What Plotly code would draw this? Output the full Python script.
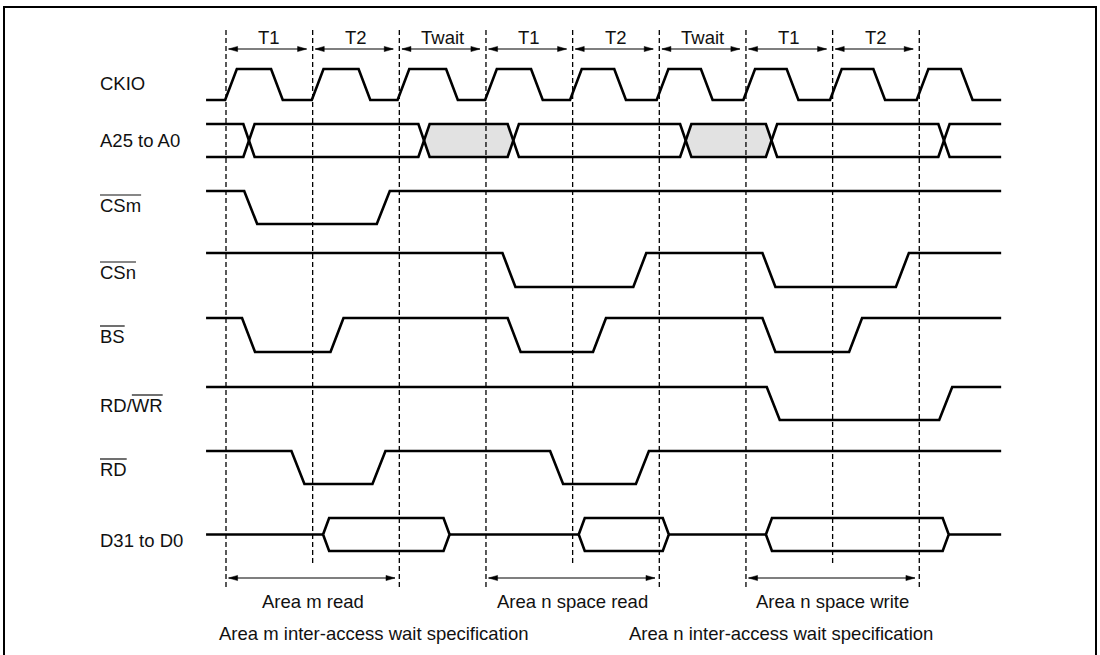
import plotly.graph_objects as go

# ---------------- data (times in clock cycles, 0 = first dashed boundary) ----------------
SIGNAL_NAMES = ["CKIO", "A25 to A0", "CSm", "CSn", "BS", "RD/WR", "RD", "D31 to D0"]
PERIOD_LABELS = ["T1", "T2", "Twait", "T1", "T2", "Twait", "T1", "T2"]
PERIOD_BOUNDS = [0, 1, 2, 3, 4, 5, 6, 7, 8]
BOUND_LONG = [True, False, True, True, False, True, True, False, True]
T_START, T_END = -0.23, 8.945

CKIO_INIT = 0
CKIO_EDGES = [-0.01, 0.52, 0.99, 1.53, 1.98, 2.54, 2.99, 3.52, 3.97, 4.48,
              4.97, 5.48, 5.97, 6.47, 6.97, 7.47, 7.97, 8.48]
ADDR_EDGES = [0.20, 2.22, 3.25, 5.24, 6.23, 8.22]
ADDR_SHADED = [False, False, True, False, True, False, False]
CSM_INIT, CSM_EDGES = 1, [0.21, 1.74]
CSN_INIT, CSN_EDGES = 1, [3.19, 4.70, 6.19, 7.73]
BS_INIT, BS_EDGES = 1, [0.185, 1.206, 3.25, 4.235, 6.19, 7.19]
RDWR_INIT, RDWR_EDGES = 1, [6.24, 8.23]
RD_INIT, RD_EDGES = 1, [0.755, 1.69, 3.74, 4.73]
DATA_VALID = [(1.12, 2.58), (4.07, 5.11), (6.23, 8.34)]

ACCESS_SPANS = [(0, 2), (3, 5), (6, 8)]
ACCESS_LABELS = ["Area m read", "Area n space read", "Area n space write"]
WAIT_SPEC_LABELS = ["Area m inter-access wait specification",
                    "Area n inter-access wait specification"]
WAIT_SPEC_CENTERS = [1.70, 6.40]

# ---------------- layout / style ----------------
W, H = 1100, 655
P0, PPC = 226.0, 86.66            # pixel of t=0, pixels per cycle
ROW_HI = [69, 124, 191, 253, 318, 387, 451, 518]
ROW_LO = [100, 157, 224, 287, 352, 420, 484, 551]
LABEL_Y = [83, 140, 205, 272, 336, 405, 469, 540]
LABEL_PX = 99
OVERLINE = {"CSm": (0, 3), "CSn": (0, 3), "BS": (0, 2), "RD/WR": (3, 5), "RD": (0, 2)}
CHAR_W = {'C': 722, 'S': 667, 'm': 833, 'n': 556, 'B': 667, 'R': 722, 'D': 722, '/': 278, 'W': 944}
FONT = "Liberation Sans, Arial, Helvetica, sans-serif"
LBL_SIZE = 18.5
T_SIZE = 18.5
EDGE_W = 0.15
CLK_EDGE_W = 0.135
BUS_W = 0.13
HEX_R = 0.07
GRAY = "#e2e2e2"
LINE = dict(color="black", width=2.6)
DASH_TOP, DASH_BOT_LONG, DASH_BOT_SHORT = 30, 587, 565
PERIOD_ARROW_Y, PERIOD_LABEL_Y = 49, 37
ACC_ARROW_Y, ACC_LABEL_Y, SPEC_LABEL_Y = 578, 601, 633
HEAD_LEN, HEAD_HALF = 9 / PPC, 2.6


def px2t(px):
    return (px - P0) / PPC


rows = {n: (hi, lo) for n, hi, lo in zip(SIGNAL_NAMES, ROW_HI, ROW_LO)}


def ylev(name, lvl):
    hi, lo = rows[name]
    return lo - lvl * (lo - hi)


def waveform(init, edges, w):
    lvl = init
    xs, lv = [T_START], [lvl]
    for e in edges:
        xs += [e, e + w]
        lv += [lvl, 1 - lvl]
        lvl = 1 - lvl
    xs.append(T_END)
    lv.append(lvl)
    return xs, lv


fig = go.Figure()

# A25 to A0 shaded (invalid) regions
hi, lo = rows["A25 to A0"]
mid = (hi + lo) / 2
for i, sh in enumerate(ADDR_SHADED):
    if sh:
        a, b = ADDR_EDGES[i - 1], ADDR_EDGES[i]
        fig.add_trace(go.Scatter(
            x=[a + BUS_W / 2, a + BUS_W, b, b + BUS_W / 2, b, a + BUS_W, a + BUS_W / 2],
            y=[mid, hi, hi, mid, lo, lo, mid], fill="toself", fillcolor=GRAY,
            mode="lines", line=dict(width=0), hoverinfo="skip", showlegend=False))

# bus lines
for init in (1, 0):
    xs, lv = waveform(init, ADDR_EDGES, BUS_W)
    fig.add_trace(go.Scatter(x=xs, y=[ylev("A25 to A0", l) for l in lv], mode="lines",
                             line=LINE, hoverinfo="skip", showlegend=False))

# single-line signals
digital = [("CKIO", CKIO_INIT, CKIO_EDGES, CLK_EDGE_W),
           ("CSm", CSM_INIT, CSM_EDGES, EDGE_W),
           ("CSn", CSN_INIT, CSN_EDGES, EDGE_W),
           ("BS", BS_INIT, BS_EDGES, EDGE_W),
           ("RD/WR", RDWR_INIT, RDWR_EDGES, EDGE_W),
           ("RD", RD_INIT, RD_EDGES, EDGE_W)]
for name, init, edges, w in digital:
    xs, lv = waveform(init, edges, w)
    fig.add_trace(go.Scatter(x=xs, y=[ylev(name, l) for l in lv], mode="lines",
                             line=LINE, hoverinfo="skip", showlegend=False))

# data bus
hi, lo = rows["D31 to D0"]
mid = (hi + lo) / 2
cx, cy = [], []
prev = T_START
for tl, tr in DATA_VALID:
    cx += [prev, tl, None]
    cy += [mid, mid, None]
    prev = tr
cx += [prev, T_END]
cy += [mid, mid]
fig.add_trace(go.Scatter(x=cx, y=cy, mode="lines", line=LINE, hoverinfo="skip", showlegend=False))
for tl, tr in DATA_VALID:
    fig.add_trace(go.Scatter(
        x=[tl, tl + HEX_R, tr - HEX_R, tr, tr - HEX_R, tl + HEX_R, tl],
        y=[mid, hi, hi, mid, lo, lo, mid], mode="lines", line=LINE,
        hoverinfo="skip", showlegend=False))

shapes = []
# dashed cycle boundaries
for t, lng in zip(PERIOD_BOUNDS, BOUND_LONG):
    shapes.append(dict(type="line", xref="x", yref="y", x0=t, x1=t, y0=DASH_TOP,
                       y1=DASH_BOT_LONG if lng else DASH_BOT_SHORT,
                       line=dict(color="black", width=1.3, dash="5px,3px"), layer="above"))


def dbl_arrow(x0, x1, y):
    shapes.append(dict(type="line", xref="x", yref="y", x0=x0, x1=x1, y0=y, y1=y,
                       line=dict(color="black", width=1.1)))
    for tip, d in ((x0, 1), (x1, -1)):
        shapes.append(dict(type="path", xref="x", yref="y",
                           path=f"M{tip},{y} L{tip + d * HEAD_LEN},{y - HEAD_HALF} "
                                f"L{tip + d * HEAD_LEN},{y + HEAD_HALF} Z",
                           fillcolor="black", line=dict(color="black", width=0.5)))


annotations = []
for i, lab in enumerate(PERIOD_LABELS):
    a, b = PERIOD_BOUNDS[i], PERIOD_BOUNDS[i + 1]
    dbl_arrow(a + 0.03, b - 0.07, PERIOD_ARROW_Y)
    annotations.append(dict(x=(a + b) / 2, y=PERIOD_LABEL_Y, text=lab, showarrow=False,
                            xref="x", yref="y", font=dict(family=FONT, size=T_SIZE, color="#111")))

for (a, b), lab in zip(ACCESS_SPANS, ACCESS_LABELS):
    dbl_arrow(a + 0.03, b - 0.05, ACC_ARROW_Y)
    annotations.append(dict(x=(a + b) / 2, y=ACC_LABEL_Y, text=lab, showarrow=False,
                            xref="x", yref="y", font=dict(family=FONT, size=LBL_SIZE, color="#111")))

for c, lab in zip(WAIT_SPEC_CENTERS, WAIT_SPEC_LABELS):
    annotations.append(dict(x=c, y=SPEC_LABEL_Y, text=lab, showarrow=False,
                            xref="x", yref="y", font=dict(family=FONT, size=LBL_SIZE, color="#111")))

# signal labels
for name, ly in zip(SIGNAL_NAMES, LABEL_Y):
    annotations.append(dict(x=px2t(LABEL_PX), y=ly, text=name, showarrow=False, xanchor="left",
                            xref="x", yref="y", borderpad=0,
                            font=dict(family=FONT, size=LBL_SIZE, color="#111")))
    if name in OVERLINE:
        s, e = OVERLINE[name]
        off = sum(CHAR_W[c] for c in name[:s]) / 1000 * LBL_SIZE
        wid = sum(CHAR_W[c] for c in name[s:e]) / 1000 * LBL_SIZE
        shapes.append(dict(type="line", xref="x", yref="y",
                           x0=px2t(LABEL_PX + 1 + off), x1=px2t(LABEL_PX + 1 + off + wid),
                           y0=ly - 10, y1=ly - 10, line=dict(color="#111", width=1.2)))

# frame
shapes.append(dict(type="rect", xref="paper", yref="paper", x0=4 / W, x1=1096 / W,
                   y0=-0.05, y1=1 - 7 / H, line=dict(color="black", width=2)))

fig.update_layout(
    width=W, height=H, margin=dict(l=0, r=0, t=0, b=0),
    paper_bgcolor="white", plot_bgcolor="white",
    xaxis=dict(range=[px2t(0), px2t(W)], visible=False, fixedrange=True),
    yaxis=dict(range=[H, 0], visible=False, fixedrange=True),
    shapes=shapes, annotations=annotations, showlegend=False,
)

fig.write_html("out.html", config={"displayModeBar": False, "staticPlot": True},
               post_script="document.body.style.margin='0';document.body.style.overflow='hidden';")
